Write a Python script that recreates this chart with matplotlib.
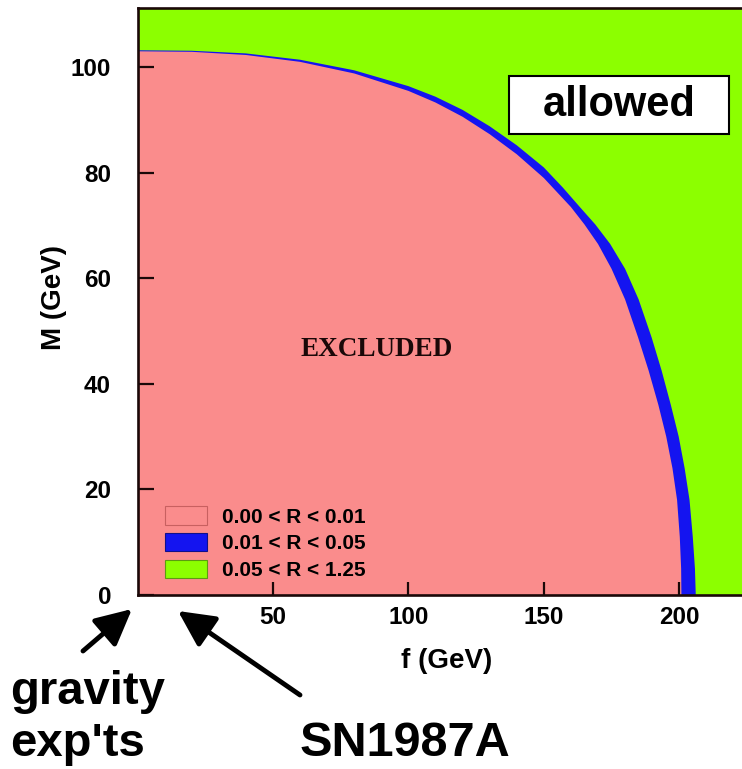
import matplotlib
matplotlib.use('Agg')
from matplotlib import pyplot as plt
from matplotlib.patches import Patch, Rectangle

# boundary curves (f in GeV, M in GeV)
inner_f = [0, 20, 40, 60, 80, 100, 110, 120, 130, 140, 150, 160, 165, 170, 175, 180,
           184.8, 188.7, 192.3, 195.2, 197.5, 199.2, 200.2, 200.7, 200.8]
inner_M = [103, 102.9, 102.3, 101.0, 98.8, 95.5, 93.3, 90.6, 87.3, 83.5, 79.0, 73.5, 70.2, 66.5, 61.8, 56,
           48.8, 42.5, 36, 30, 24, 18, 11, 5, 0]
outer_f = [0, 20, 40, 60, 80, 100, 110, 120, 130, 140, 150, 157, 163.3, 169, 174.5, 180,
           185, 189.8, 193.5, 196.9, 199.8, 202, 203.8, 205, 205.8, 206.1]
outer_M = [103.2, 103.1, 102.6, 101.4, 99.4, 96.4, 94.4, 91.9, 88.8, 85.2, 81, 77.2, 73.5, 70.2, 66.5, 61.8,
           56, 48.8, 42.5, 36, 30, 24, 18, 11, 5, 0]

labels = ['0.00 < R < 0.01', '0.01 < R < 0.05', '0.05 < R < 1.25']
colors = ['#fa8c8c', '#1414f0', '#8cff00']
edges = ['#c86060', '#10108a', '#5c9c10']

xticks = [50, 100, 150, 200]
yticks = [0, 20, 40, 60, 80, 100]

W, H = 742, 769
fig = plt.figure(figsize=(W / 100, H / 100), dpi=100)
fig.patch.set_facecolor('white')

# axes runs past the right edge of the picture (cropped like the original)
x0, y0 = 137.5, 595
ax = fig.add_axes([x0 / W, (H - y0) / H, 623 / W, 587 / H])
ax.set_xlim(0, 230)
ax.set_ylim(0, 111.2)
ax.set_facecolor(colors[2])

ax.fill([0] + outer_f, [0] + outer_M, color=colors[1], lw=0)
ax.fill([0] + inner_f, [0] + inner_M, color=colors[0], lw=0)

bold = dict(family='Liberation Sans', weight='bold')

for sp in ax.spines.values():
    sp.set_linewidth(1.9)
    sp.set_color('#1a0808')
    sp.set_zorder(4)

ax.set_xticks(xticks)
ax.set_yticks(yticks)
ax.tick_params(axis='both', direction='in', width=1.6, color='#1a0808')
ax.tick_params(axis='y', length=11.5, pad=19)
ax.tick_params(axis='x', length=9.5, pad=8)
for lab in ax.get_xticklabels() + ax.get_yticklabels():
    lab.set_fontproperties(matplotlib.font_manager.FontProperties(size=17.5, **bold))

ax.set_xlabel('f (GeV)', fontsize=20, **bold)
ax.set_ylabel('M (GeV)', fontsize=20, **bold)
ax.xaxis.set_label_coords((447 - x0) / 623, (y0 - 648) / 587)
ax.yaxis.set_label_coords((67.5 - x0) / 623, (y0 - 297) / 587)

ax.text(88.3, 46.5, 'EXCLUDED', family='Liberation Serif', weight='bold',
        fontsize=19.5, ha='center', va='center', color='#1a0808')

handles = [Patch(facecolor=c, edgecolor=e, lw=0.8) for c, e in zip(colors, edges)]
ax.legend(handles, labels, loc='lower left', bbox_to_anchor=((165 - x0) / 623, (y0 - 580) / 587),
          frameon=False, borderpad=0, borderaxespad=0, handlelength=2.0, handleheight=1.0,
          handletextpad=0.75, labelspacing=0.3, prop=dict(size=15, **bold))

# "allowed" box
fig.patches.append(Rectangle((509 / W, (H - 134) / H), 220 / W, 58 / H, transform=fig.transFigure,
                             facecolor='white', edgecolor='black', lw=1.5, zorder=5))
fig.text(619 / W, (H - 105) / H, 'allowed', ha='center', va='center', fontsize=30, zorder=6, **bold)

# notes below the axis
fig.text(10 / W, (H - 704) / H, 'gravity', fontsize=34, va='baseline', **bold)
fig.text(10 / W, (H - 766) / H, "exp'ts", fontsize=34, va='bottom', **bold)
fig.text(300 / W, (H - 766) / H, 'SN1987A', fontsize=35, va='bottom', **bold)

arrow = dict(arrowstyle='-|>,head_length=1.0,head_width=0.5', lw=3.5, color='black',
             mutation_scale=22, shrinkA=0, shrinkB=0)
ax.annotate('', xy=(132, H - 609), xytext=(83, H - 651), xycoords='figure pixels',
            textcoords='figure pixels', arrowprops=arrow, annotation_clip=False)
ax.annotate('', xy=(178, H - 611), xytext=(300, H - 695), xycoords='figure pixels',
            textcoords='figure pixels', arrowprops=arrow, annotation_clip=False)

fig.savefig('out.png', dpi=100)
